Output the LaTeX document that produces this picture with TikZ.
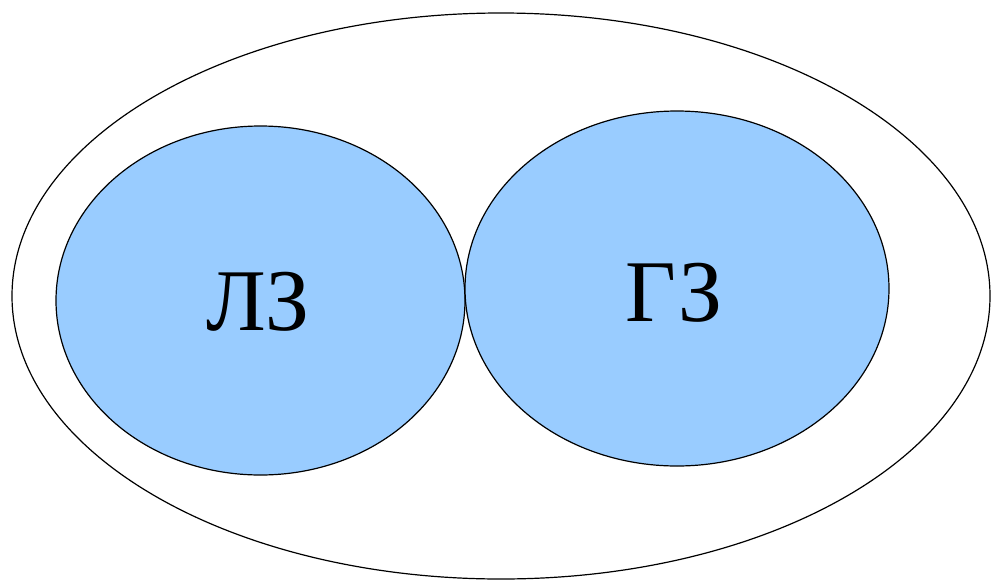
\documentclass[tikz,border=0pt]{standalone}
\usepackage{fontspec}
\setmainfont{Liberation Serif}
\definecolor{zonefill}{HTML}{99CCFF}
\begin{document}
\begin{tikzpicture}[x=1pt,y=-1pt,
  zone/.style={draw=black, line width=1.2pt, fill=zonefill},
  outer/.style={draw=black, line width=1.2pt},
  lbl/.style={font=\fontsize{88}{88}\selectfont}]
\useasboundingbox (0,0) rectangle (991,579);
\draw[outer] (501,296) ellipse [x radius=489, y radius=283];
\draw[zone] (260.5,300.5) ellipse [x radius=204.5, y radius=174.5];
\draw[zone] (677,288.5) ellipse [x radius=212, y radius=177.5];
\node[lbl] (l) at (258,302) {ЛЗ};
\node[lbl] (g) at (674,293) {ГЗ};
\end{tikzpicture}
\end{document}
